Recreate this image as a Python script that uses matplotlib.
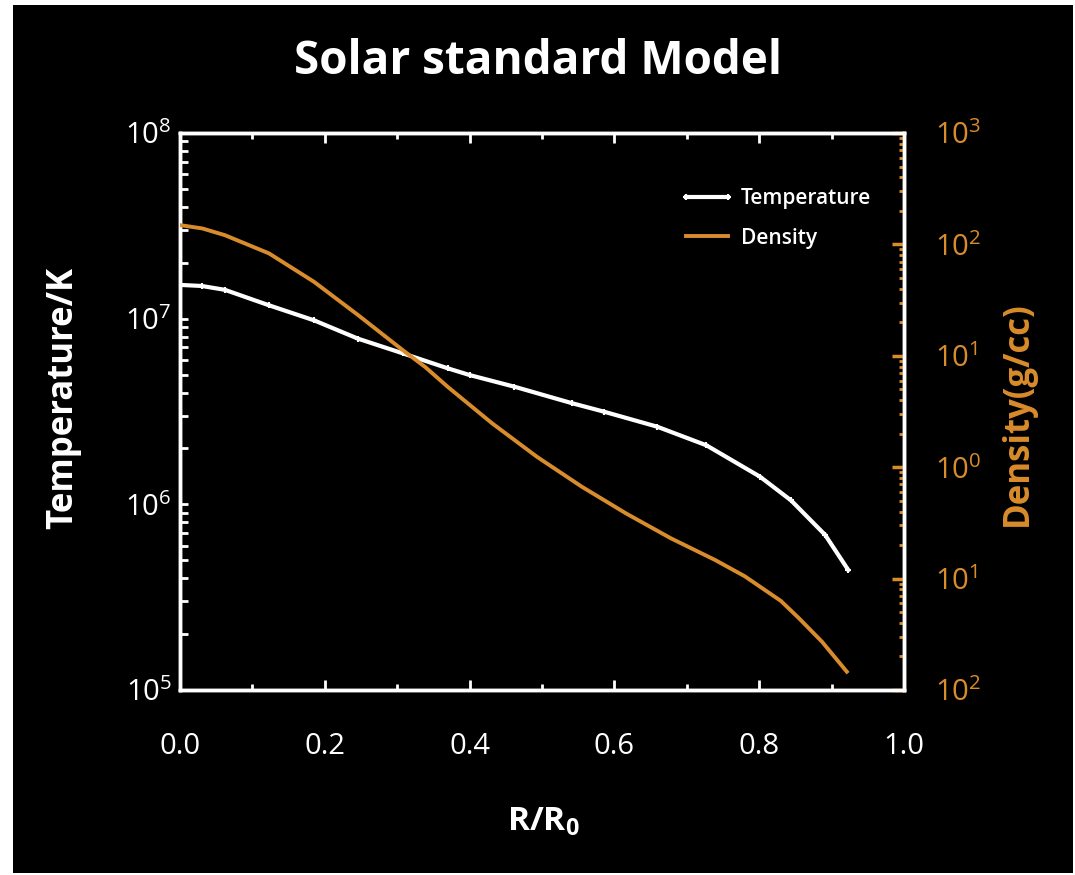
import numpy as np
import matplotlib
matplotlib.use('Agg')
import matplotlib.pyplot as plt
from matplotlib.patches import Rectangle
from matplotlib.ticker import FixedLocator, FixedFormatter, LogLocator, MultipleLocator, NullFormatter

# radius (R/R0) and temperature (K)
r_temp = [0.0, 0.03, 0.062, 0.123, 0.185, 0.246, 0.308, 0.37, 0.40, 0.462,
          0.542, 0.585, 0.659, 0.727, 0.801, 0.844, 0.891, 0.923]
temperature = [1.52e7, 1.50e7, 1.43e7, 1.18e7, 9.8e6, 7.8e6, 6.5e6, 5.4e6, 4.97e6, 4.3e6,
               3.5e6, 3.16e6, 2.62e6, 2.08e6, 1.41e6, 1.05e6, 6.85e5, 4.43e5]

# radius and density (g/cc)
r_dens = [0.0, 0.031, 0.062, 0.123, 0.185, 0.246, 0.308, 0.339, 0.37, 0.431,
          0.493, 0.555, 0.616, 0.678, 0.739, 0.78, 0.83, 0.855, 0.887, 0.921]
density = [149, 139, 121, 83, 46.2, 23.2, 11.2, 7.9, 5.25, 2.48,
           1.24, 0.668, 0.385, 0.23, 0.147, 0.105, 0.063, 0.044, 0.027, 0.0146]

x_ticks = [0.0, 0.2, 0.4, 0.6, 0.8, 1.0]
x_labels = ['0.0', '0.2', '0.4', '0.6', '0.8', '1.0']
t_ticks = [1e5, 1e6, 1e7, 1e8]
t_labels = [r'$10^{5}$', r'$10^{6}$', r'$10^{7}$', r'$10^{8}$']
d_ticks = [1e-2, 1e-1, 1e0, 1e1, 1e2, 1e3]
# labels as printed in the source (minus signs missing)
d_labels = [r'$10^{2}$', r'$10^{1}$', r'$10^{0}$', r'$10^{1}$', r'$10^{2}$', r'$10^{3}$']

orange = '#D98C2B'
font = 'Open Sans'

plt.rcParams['font.family'] = [font, 'DejaVu Sans']
plt.rcParams['mathtext.fontset'] = 'custom'
plt.rcParams['mathtext.rm'] = font
plt.rcParams['mathtext.it'] = font
plt.rcParams['mathtext.bf'] = font + ':bold'


def main():
    fig = plt.figure(figsize=(10.75, 8.75), dpi=100, facecolor='white')
    fig.patches.append(Rectangle((13 / 1075, 2 / 875), 1060 / 1075, 868 / 875,
                                 transform=fig.transFigure, facecolor='black', edgecolor='none', zorder=-5))

    ax = fig.add_axes([180 / 1075, 185 / 875, 724 / 1075, 557 / 875])
    ax.set_facecolor('black')
    ax2 = ax.twinx()

    ax.set_yscale('log')
    ax.set_ylim(1e5, 1e8)
    ax.set_xlim(0, 1.0)
    ax2.set_yscale('log')
    ax2.set_ylim(1e-2, 1e3)

    ln_t, = ax.plot(r_temp, temperature, color='white', lw=3, marker='+', ms=5, mew=1.5,
                    label='Temperature', zorder=3)
    ln_d, = ax2.plot(r_dens, density, color=orange, lw=2.8, label='Density', zorder=3)

    for s in ['left', 'bottom', 'top', 'right']:
        ax.spines[s].set_color('white')
        ax.spines[s].set_linewidth(2.5)
        ax2.spines[s].set_color('white')
        ax2.spines[s].set_linewidth(2.5)

    ax.xaxis.set_major_locator(FixedLocator(x_ticks))
    ax.xaxis.set_major_formatter(FixedFormatter(x_labels))
    ax.xaxis.set_minor_locator(MultipleLocator(0.1))
    ax.tick_params(axis='x', which='major', direction='in', length=7, width=2, color='white',
                   top=True, labelcolor='white', labelsize=21, pad=30)
    ax.tick_params(axis='x', which='minor', direction='in', length=4.5, width=2, color='white', top=True)

    ax.yaxis.set_major_locator(FixedLocator(t_ticks))
    ax.yaxis.set_major_formatter(FixedFormatter(t_labels))
    ax.yaxis.set_minor_locator(LogLocator(base=10, subs=np.arange(2, 10)))
    ax.yaxis.set_minor_formatter(NullFormatter())
    ax.tick_params(axis='y', which='major', direction='in', length=6, width=2, color='white',
                   right=False, labelcolor='white', labelsize=21, pad=6)
    ax.tick_params(axis='y', which='minor', direction='in', length=6, width=2, color='white', right=False)

    ax2.yaxis.set_major_locator(FixedLocator(d_ticks))
    ax2.yaxis.set_major_formatter(FixedFormatter(d_labels))
    ax2.yaxis.set_minor_locator(LogLocator(base=10, subs=np.arange(2, 10)))
    ax2.yaxis.set_minor_formatter(NullFormatter())
    ax2.tick_params(axis='y', which='major', direction='in', length=9, width=2.5, color=orange,
                    labelcolor=orange, labelsize=21, pad=22)
    ax2.tick_params(axis='y', which='minor', direction='in', length=3.5, width=2, color=orange)

    leg = ax.legend([ln_t, ln_d], ['Temperature', 'Density'], loc='upper left',
                    bbox_to_anchor=(0.665, 0.935), frameon=False, fontsize=15, handlelength=2.6,
                    handletextpad=0.3, labelspacing=0.9, numpoints=2)
    for t in leg.get_texts():
        t.set_color('white')
        t.set_fontweight('semibold')

    fig.text(538 / 1075, 1 - 61 / 875, 'Solar standard Model', color='white', fontsize=33,
             fontweight='bold', ha='center', va='center')
    fig.text(63 / 1075, 1 - 398 / 875, 'Temperature/K', color='white', fontsize=25,
             fontweight='bold', rotation=90, ha='center', va='center')
    fig.text(1018 / 1075, 1 - 414 / 875, 'Density(g/cc)', color=orange, fontsize=25,
             fontweight='bold', rotation=90, ha='center', va='center')
    fig.text(543 / 1075, 1 - 822 / 875, r'R/R$_{\mathbf{0}}$', color='white', fontsize=24,
             fontweight='bold', ha='center', va='center')

    plt.savefig('out.png', dpi=100, facecolor='white')


if __name__ == '__main__':
    main()
